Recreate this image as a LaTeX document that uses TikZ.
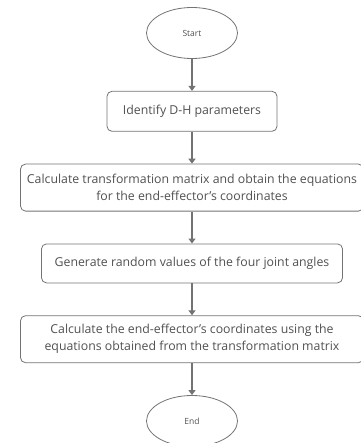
\documentclass[tikz,border=0pt]{standalone}
\usepackage{fontspec}
\setmainfont{Open Sans}
\usetikzlibrary{arrows.meta,positioning,shapes.geometric}
\definecolor{linegray}{HTML}{737373}
\definecolor{textgray}{HTML}{505050}

\begin{document}
\begin{tikzpicture}
%Flowchart of the end-effector computation
	[
	 	 %Styles
       node distance=32pt,
       terminal_node/.style={ellipse,draw=linegray,line width=0.8pt,minimum width=91pt,minimum height=51pt,
         inner sep=0pt,text=textgray,font=\fontsize{8.5}{10}\selectfont},
		 step_node/.style={rectangle,rounded corners=5pt,draw=linegray,line width=0.8pt,minimum height=40pt,
         inner sep=2pt,align=center,text=textgray,font=\fontsize{12.3}{17}\selectfont},
		 flow_edge/.style={draw=linegray,line width=1.4pt,-{Triangle[width=7pt,length=5pt]}}
    ]
    \useasboundingbox (0,0) rectangle (360pt,-443pt);

    %Node placement
    \node (start) [terminal_node] at (192pt,-33pt) {Start};
    \node (dh) [step_node, minimum width=170pt, below=of start] {Identify D-H parameters};
    \node (matrix) [step_node, minimum width=343pt, minimum height=47pt, below=of dh]
       {Calculate transformation matrix and obtain the equations\\for the end-effector’s coordinates};
    \node (angles) [step_node, minimum width=301pt, minimum height=39pt, below=of matrix]
       {Generate random values of the four joint angles};
    \node (coords) [step_node, minimum width=343pt, minimum height=47pt, below=of angles]
       {Calculate the end-effector’s coordinates using the\\equations obtained from the transformation matrix};
    \node (end) [terminal_node, below=of coords] {End};

   %Edges
   \path
       (start) edge [flow_edge] (dh)
       (dh) edge [flow_edge] (matrix)
       (matrix) edge [flow_edge] (angles)
       (angles) edge [flow_edge] (coords)
       (coords) edge [flow_edge] (end);
\end{tikzpicture}
\end{document}
